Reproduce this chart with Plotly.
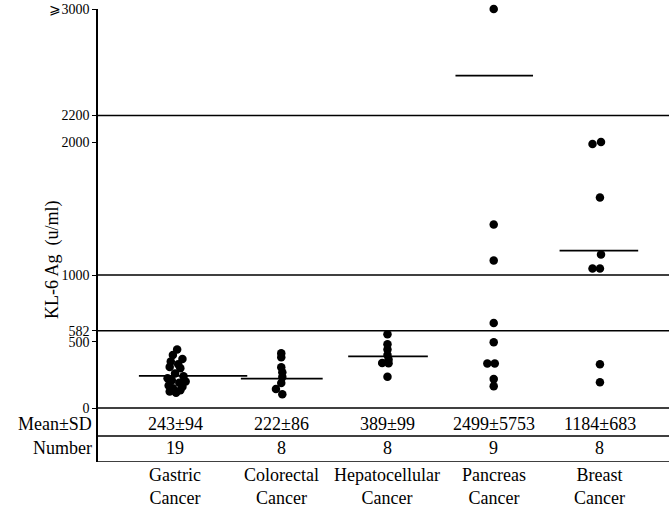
import plotly.graph_objects as go

categories = ["Gastric<br>Cancer", "Colorectal<br>Cancer", "Hepatocellular<br>Cancer",
              "Pancreas<br>Cancer", "Breast<br>Cancer"]
mean_sd = ["243±94", "222±86", "389±99", "2499±5753", "1184±683"]
numbers = ["19", "8", "8", "9", "8"]
means = [243, 222, 389, 2499, 1184]

gastric = [440, 400, 370, 350, 330, 310, 300, 260, 240, 225, 210, 200, 190, 170, 160, 150, 135, 125, 115]
gastric_dx = [0.02, -0.02, 0.07, -0.04, 0.03, -0.05, 0.05, 0.0, 0.08, -0.07, -0.03, 0.1, 0.04, -0.06, 0.07, -0.02, 0.05, -0.05, 0.01]
colorectal = [412, 383, 308, 270, 233, 188, 143, 105]
colorectal_dx = [0, 0, 0, 0.01, 0.01, 0, -0.05, 0.01]
hepato = [555, 480, 440, 400, 365, 340, 338, 235]
hepato_dx = [0, 0, 0, 0, 0.01, -0.05, 0.01, 0]
pancreas = [3000, 1380, 1110, 640, 495, 335, 335, 218, 165]
pancreas_dx = [0, 0, 0, 0, 0, -0.06, 0.01, 0, 0]
breast = [2000, 1985, 1583, 1155, 1050, 1050, 330, 195]
breast_dx = [0.01, -0.07, 0, 0.01, -0.07, 0, 0, 0]

tick_vals = [0, 500, 582, 1000, 2000, 2200, 3000]
tick_text = ["0", "500", "582", "1000", "2000", "2200", "⩾3000"]
ref_lines = [0, 582, 1000, 2200]
table_lines = [-210, -405]

mean_left = [-0.34, -0.38, -0.37, -0.36, -0.38]
mean_right = [0.68, 0.39, 0.38, 0.37, 0.36]

FONT = "Liberation Serif"
fig = go.Figure()

groups = [(gastric, gastric_dx), (colorectal, colorectal_dx), (hepato, hepato_dx),
          (pancreas, pancreas_dx), (breast, breast_dx)]
for i, (vals, dx) in enumerate(groups):
    pos = i + 1
    fig.add_trace(go.Scatter(
        x=[pos + d for d in dx], y=vals, mode="markers",
        marker=dict(color="black", size=8.5, line=dict(width=0)),
        showlegend=False, cliponaxis=False))
    fig.add_trace(go.Scatter(
        x=[pos + mean_left[i], pos + mean_right[i]], y=[means[i], means[i]],
        mode="lines", line=dict(color="black", width=1.8), showlegend=False))

for v in ref_lines + table_lines:
    fig.add_shape(type="line", xref="paper", x0=0, x1=1, yref="y", y0=v, y1=v,
                  line=dict(color="black", width=1.5))

for i in range(5):
    fig.add_annotation(x=i + 1, y=-122, xref="x", yref="y", text=mean_sd[i],
                       showarrow=False, font=dict(family=FONT, size=18, color="black"))
    fig.add_annotation(x=i + 1, y=-300, xref="x", yref="y", text=numbers[i],
                       showarrow=False, font=dict(family=FONT, size=18, color="black"))
    fig.add_annotation(x=i + 1, y=-0.002, xref="x", yref="paper", text=categories[i],
                       showarrow=False, yanchor="top",
                       font=dict(family=FONT, size=18, color="black"))

fig.add_annotation(x=0, y=-122, xref="paper", yref="y", text="Mean±SD", xanchor="right",
                   xshift=-4, showarrow=False, font=dict(family=FONT, size=18, color="black"))
fig.add_annotation(x=0, y=-300, xref="paper", yref="y", text="Number", xanchor="right",
                   xshift=-4, showarrow=False, font=dict(family=FONT, size=18, color="black"))
fig.add_annotation(x=0, y=1118, xref="paper", yref="y", text="KL-6 Ag  (u/ml)", textangle=-90,
                   xshift=-58, showarrow=False, font=dict(family=FONT, size=18, color="black"))

fig.update_xaxes(range=[0.275, 5.65], showgrid=False, zeroline=False, showticklabels=False,
                 showline=False, ticks="")
fig.update_yaxes(range=[-405, 3000], tickmode="array", tickvals=tick_vals, ticktext=tick_text,
                 showgrid=False, zeroline=False, showline=True, linecolor="black", linewidth=1.5,
                 ticks="outside", ticklen=4, tickwidth=1.2, tickcolor="black",
                 tickfont=dict(family=FONT, size=14, color="black"))

fig.update_layout(width=669, height=512, margin=dict(l=98, r=0, t=9, b=50),
                  plot_bgcolor="white", paper_bgcolor="white", showlegend=False)

fig.write_html("out.html")
